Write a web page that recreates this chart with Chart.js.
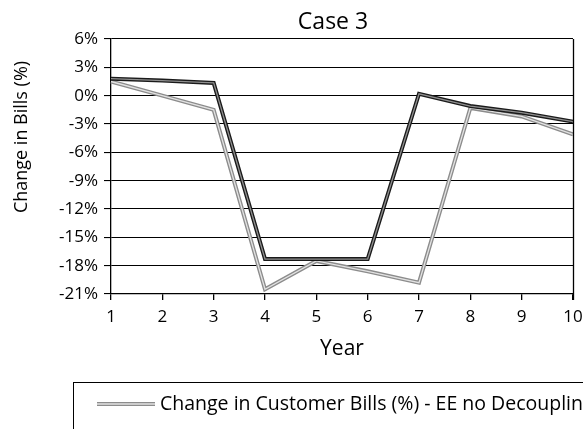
<!DOCTYPE html>
<html>
<head>
<meta charset="utf-8">
<script src="https://cdn.jsdelivr.net/npm/chart.js@4/dist/chart.umd.min.js"></script>
<style>
  html, body { margin: 0; padding: 0; background: #fff; }
  #wrap { width: 583px; height: 429px; overflow: hidden; position: relative; }
  #box { width: 680px; height: 480px; position: absolute; left: 0; top: 0; }
</style>
</head>
<body>
<div id="wrap"><div id="box"><canvas id="c"></canvas></div></div>
<script>
const years = ['1', '2', '3', '4', '5', '6', '7', '8', '9', '10'];
const eeNoDecoupling = [1.5, 0.0, -1.5, -20.5, -17.5, -18.6, -19.8, -1.3, -2.2, -4.1];
const eeWithDecoupling = [1.8, 1.6, 1.35, -17.3, -17.3, -17.3, 0.2, -1.1, -1.8, -2.75];
const seriesNames = [
  'Change in Customer Bills (%) - EE no Decoupling',
  'Change in Customer Bills (%) - EE with Decoupling'
];
const yTicks = [6, 3, 0, -3, -6, -9, -12, -15, -18, -21];
const chartTitle = 'Case 3';
const yTitle = 'Change in Bills (%)';
const xTitle = 'Year';

const FONT = "'Open Sans', 'DejaVu Sans', sans-serif";

const styles = [
  { outer: '#8c8c8c', inner: '#e2e2e2' },
  { outer: '#1a1a1a', inner: '#8f8f8f' }
];

function makeDs(label, data, st, legend, order) {
  return {
    label: label, data: data, borderColor: st.outer, borderWidth: 4,
    pointRadius: 0, fill: false, tension: 0, inLegend: legend, styleRef: st,
    borderJoinStyle: 'miter', borderCapStyle: 'butt', order: order
  };
}
function makeInner(label, data, st, order) {
  return {
    label: label, data: data, borderColor: st.inner, borderWidth: 1.3,
    pointRadius: 0, fill: false, tension: 0, inLegend: false,
    borderJoinStyle: 'miter', borderCapStyle: 'butt', order: order
  };
}

const datasets = [
  makeDs(seriesNames[0], eeNoDecoupling, styles[0], true, 4),
  makeInner(seriesNames[0] + ' inner', eeNoDecoupling, styles[0], 3),
  makeDs(seriesNames[1], eeWithDecoupling, styles[1], true, 2),
  makeInner(seriesNames[1] + ' inner', eeWithDecoupling, styles[1], 1)
];

const framePlugin = {
  id: 'frame',
  afterDraw(chart) {
    const ctx = chart.ctx;
    const a = chart.chartArea;
    ctx.save();
    ctx.strokeStyle = '#000';
    ctx.lineWidth = 1.3;
    ctx.beginPath();
    ctx.moveTo(Math.round(a.right) + 0.5, a.top);
    ctx.lineTo(Math.round(a.right) + 0.5, a.bottom + 6);
    ctx.stroke();

    ctx.fillStyle = '#000';
    ctx.textAlign = 'center';
    ctx.textBaseline = 'middle';
    ctx.font = '23px ' + FONT;
    ctx.fillText(chartTitle, 333, 22);

    ctx.save();
    ctx.translate(22, 137);
    ctx.rotate(-Math.PI / 2);
    ctx.font = '18px ' + FONT;
    ctx.fillText(yTitle, 0, 0);
    ctx.restore();

    // legend box
    ctx.lineWidth = 1;
    ctx.strokeRect(73.5, 382.5, 700, 120);
    let y = 404;
    chart.data.datasets.forEach((ds) => {
      if (!ds.inLegend) return;
      const st = ds.styleRef;
      ctx.beginPath();
      ctx.strokeStyle = st.outer; ctx.lineWidth = 4;
      ctx.moveTo(97, y); ctx.lineTo(155, y); ctx.stroke();
      ctx.beginPath();
      ctx.strokeStyle = st.inner; ctx.lineWidth = 1.3;
      ctx.moveTo(97, y); ctx.lineTo(155, y); ctx.stroke();
      ctx.fillStyle = '#000';
      ctx.font = '19.5px ' + FONT;
      ctx.textBaseline = 'middle';
      ctx.textAlign = 'left';
      ctx.fillText(ds.label, 160, y);
      y += 38;
    });
    ctx.restore();
  }
};

new Chart(document.getElementById('c'), {
  type: 'line',
  data: { labels: years, datasets: datasets },
  options: {
    responsive: true,
    maintainAspectRatio: false,
    animation: false,
    layout: { padding: { left: 0, right: 107, top: 39, bottom: 118 } },
    plugins: {
      legend: { display: false },
      tooltip: { enabled: false },
      title: { display: false }
    },
    scales: {
      x: {
        offset: false,
        grid: { display: true, drawOnChartArea: false, drawTicks: true, tickLength: 6, color: '#000', lineWidth: 1.3 },
        border: { display: true, color: '#000', width: 1.3 },
        ticks: { color: '#000', font: { family: FONT, size: 17 }, padding: 7, maxRotation: 0, autoSkip: false },
        title: { display: true, text: xTitle, color: '#000', font: { family: FONT, size: 21 }, padding: { top: 0, bottom: 0 } },
        afterFit(s) { s.height = 68; }
      },
      y: {
        min: -21, max: 6,
        afterBuildTicks(s) { s.ticks = yTicks.map(v => ({ value: v })); },
        grid: { color: '#000', lineWidth: 1.1, tickLength: 7 },
        border: { display: true, color: '#000', width: 1.3 },
        ticks: { color: '#000', font: { family: FONT, size: 17 }, padding: 6, autoSkip: false, callback: v => v + '%' },
        afterFit(s) { s.width = 111; }
      }
    }
  },
  plugins: [framePlugin]
});
</script>
</body>
</html>
